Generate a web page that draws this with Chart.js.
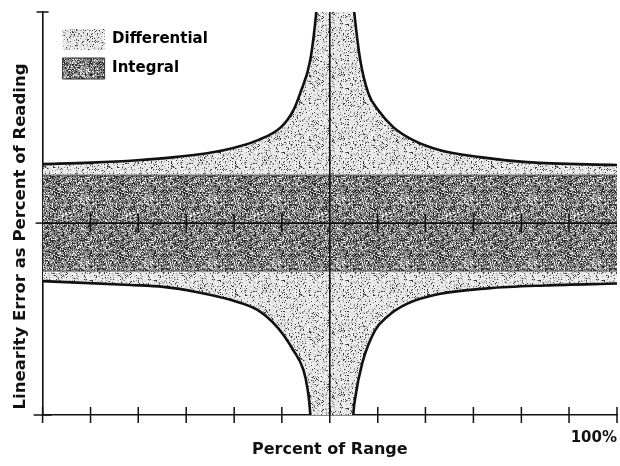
<!DOCTYPE html>
<html>
<head>
<meta charset="utf-8">
<script src="https://cdn.jsdelivr.net/npm/chart.js@4.4.0/dist/chart.umd.min.js"></script>
<style>
  html, body { margin: 0; padding: 0; background: #fff; }
</style>
</head>
<body>
<canvas id="chart" width="620" height="466"></canvas>
<script>
// x = percent of range (-100..100), y = linearity error (integral band = ±1)
const xTickValues = [-100, -83.3, -66.7, -50, -33.3, -16.7, 0, 16.7, 33.3, 50, 66.7, 83.3, 100];
const midTickValues = [-83.3, -66.7, -50, -33.3, -16.7, 16.7, 33.3, 50, 66.7, 83.3];

// differential error envelope, upper edge (runs off the top near zero)
const upperX = [-100, -83, -67, -54, -37, -25, -17, -12.7, -10.3, -6.8, -4.7, -2.5, 6, 8.5, 10.6, 13.4, 16.9, 22.1, 29, 38.4, 52.3, 68.7, 100];
const upperY = [1.23, 1.26, 1.31, 1.375, 1.52, 1.73, 2.0, 2.35, 2.71, 3.4, 4.4, 6.0, 6.0, 4.4, 3.4, 2.71, 2.35, 2.0, 1.73, 1.52, 1.375, 1.27, 1.21];

// differential error envelope, lower edge
const lowerX = [-100, -69.4, -57.9, -46.1, -34.6, -25.2, -18.3, -12.7, -9.2, -7.8, -6.8, -5.5, 7, 8.2, 8.9, 11.3, 15.8, 20, 27, 38, 55, 75, 100];
const lowerY = [-1.21, -1.29, -1.33, -1.44, -1.6, -1.81, -2.17, -2.65, -3.06, -3.44, -4.0, -6, -6, -4.0, -3.63, -2.92, -2.23, -1.95, -1.68, -1.48, -1.36, -1.3, -1.26];

// integral error band
const bandX = [-100, 100];
const bandTop = [1, 1];
const bandBottom = [-1, -1];

const yMin = -4;
const yMax = 4.4;

const FONT = "'DejaVu Sans', sans-serif";

function pts(xs, ys) {
  return xs.map((x, i) => ({ x: x, y: ys[i] }));
}

// halftone-like texture for the scanned look
function stipple(base, specks, seed) {
  const c = document.createElement('canvas');
  c.width = 64; c.height = 64;
  const g = c.getContext('2d');
  g.fillStyle = base;
  g.fillRect(0, 0, 64, 64);
  let s = seed >>> 0;
  const rnd = () => { s = (Math.imul(s, 1664525) + 1013904223) >>> 0; return s / 4294967296; };
  for (let y = 0; y < 64; y++) {
    for (let x = 0; x < 64; x++) {
      const r = rnd();
      let acc = 0;
      for (const [color, p] of specks) {
        acc += p;
        if (r < acc) { g.fillStyle = color; g.fillRect(x, y, 1, 1); break; }
      }
    }
  }
  return g.createPattern(c, 'repeat');
}

const lightPat = stipple('#e4e4e4', [['#3c3c3c', 0.08], ['#9a9a9a', 0.11], ['#ffffff', 0.16]], 7);
const darkPat = stipple('#8c8c8c', [['#262626', 0.22], ['#555555', 0.15], ['#f2f2f2', 0.12], ['#c4c4c4', 0.1]], 11);

const legendOffset = {
  id: 'legendOffset',
  beforeDraw(chart) {
    chart.legend.left = chart.chartArea.left + 12;
    chart.legend.top = chart.chartArea.top + 9;
  }
};

const ctx = document.getElementById('chart').getContext('2d');
new Chart(ctx, {
  type: 'scatter',
  data: {
    datasets: [
      {
        label: 'Differential',
        data: pts(upperX, upperY),
        showLine: true,
        fill: '+1',
        backgroundColor: lightPat,
        borderColor: '#111',
        borderWidth: 2.6,
        pointRadius: 0,
        cubicInterpolationMode: 'monotone',
        order: 6
      },
      {
        data: pts(lowerX, lowerY),
        showLine: true,
        fill: false,
        borderColor: '#111',
        borderWidth: 2.6,
        pointRadius: 0,
        cubicInterpolationMode: 'monotone',
        order: 5
      },
      {
        label: 'Integral',
        data: pts(bandX, bandTop),
        showLine: true,
        fill: '+1',
        backgroundColor: darkPat,
        borderColor: '#555',
        borderWidth: 1,
        pointRadius: 0,
        order: 4
      },
      {
        data: pts(bandX, bandBottom),
        showLine: true,
        fill: false,
        borderColor: '#555',
        borderWidth: 1,
        pointRadius: 0,
        order: 3
      },
      {
        // zero-error line
        data: pts([-100, 100], [0, 0]),
        showLine: true,
        borderColor: '#111',
        borderWidth: 1.6,
        pointRadius: 0,
        order: 2
      },
      {
        // zero-range line
        data: pts([0, 0], [yMin, yMax]),
        showLine: true,
        borderColor: '#111',
        borderWidth: 1.6,
        pointRadius: 0,
        order: 2
      },
      {
        // tick marks along the zero line
        data: midTickValues.map(v => ({ x: v, y: 0 })),
        showLine: false,
        pointStyle: 'line',
        rotation: 90,
        pointRadius: 9,
        pointBorderColor: '#111',
        pointBorderWidth: 1.5,
        clip: false,
        order: 1
      },
      {
        // x-axis ticks crossing the axis
        data: xTickValues.map(v => ({ x: v, y: yMin })),
        showLine: false,
        pointStyle: 'line',
        rotation: 90,
        pointRadius: 8,
        pointBorderColor: '#111',
        pointBorderWidth: 1.5,
        clip: false,
        order: 1
      },
      {
        // y-axis ticks crossing the axis
        data: pts([-100, -100, -100], [yMax, 0, yMin]),
        showLine: false,
        pointStyle: 'line',
        rotation: 0,
        pointRadius: [6, 7, 9],
        pointBorderColor: '#111',
        pointBorderWidth: 1.5,
        clip: false,
        order: 1
      }
    ]
  },
  options: {
    responsive: false,
    animation: false,
    events: [],
    layout: { autoPadding: false, padding: { left: 0, top: 12, right: 3, bottom: 0 } },
    scales: {
      x: {
        type: 'linear',
        min: -100,
        max: 100,
        afterBuildTicks: axis => { axis.ticks = xTickValues.map(v => ({ value: v })); },
        grid: { display: false, drawTicks: true, tickLength: 11 },
        border: { color: '#111', width: 1.6 },
        ticks: {
          autoSkip: false,
          maxRotation: 0,
          align: 'end',
          padding: 3,
          color: '#111',
          font: { family: FONT, size: 15, weight: 'bold' },
          callback: v => (v === 100 ? '100%' : '')
        },
        title: {
          display: true,
          text: 'Percent of Range',
          color: '#111',
          font: { family: FONT, size: 16, weight: 'bold' },
          padding: { top: -9.6, bottom: 6.4 }
        }
      },
      y: {
        type: 'linear',
        min: yMin,
        max: yMax,
        grid: { display: false, drawTicks: false },
        border: { color: '#111', width: 1.6 },
        ticks: { display: false },
        title: {
          display: true,
          text: 'Linearity Error as Percent of Reading' + '\u00a0'.repeat(8),
          color: '#111',
          font: { family: FONT, size: 16.5, weight: 'bold' },
          padding: { top: 11, bottom: 11.8 }
        }
      }
    },
    plugins: {
      tooltip: { enabled: false },
      legend: {
        position: 'chartArea',
        align: 'start',
        labels: {
          boxWidth: 42,
          boxHeight: 21,
          padding: 8,
          color: '#111',
          font: { family: FONT, size: 15, weight: 'bold' },
          generateLabels: () => [
            { text: 'Differential', fillStyle: lightPat, strokeStyle: '#bbb', lineWidth: 0, hidden: false, datasetIndex: 0 },
            { text: 'Integral', fillStyle: darkPat, strokeStyle: '#333', lineWidth: 1, hidden: false, datasetIndex: 2 }
          ]
        }
      }
    }
  },
  plugins: [legendOffset]
});
</script>
</body>
</html>
